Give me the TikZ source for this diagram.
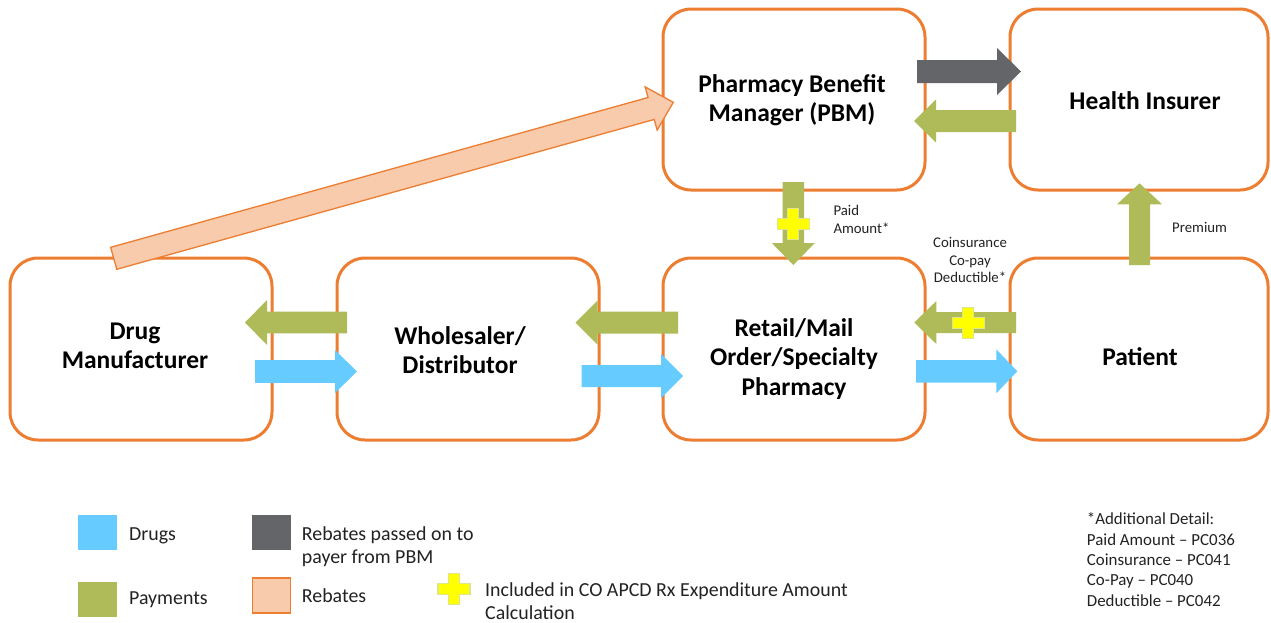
\documentclass[tikz,border=0pt]{standalone}
\usepackage{fontspec}
\setmainfont{Carlito}
\usetikzlibrary{calc}
\definecolor{boxorange}{HTML}{ED7D31}
\definecolor{drugblue}{HTML}{66CCFF}
\definecolor{paygreen}{HTML}{AEBB58}
\definecolor{rebgray}{HTML}{646569}
\definecolor{rebpeach}{HTML}{F7CBAC}
\definecolor{plusyellow}{HTML}{FFFF00}
\definecolor{plusedge}{HTML}{DDE68A}
\definecolor{txtgray}{HTML}{222222}
\newcommand\blockarrow[6]{%
  \coordinate (bahb) at ($(#3)!#6!(#2)$);
  \path[#1] ($(#2)!#4!90:(#3)$) -- ($(bahb)!#4!90:(#3)$) -- ($(bahb)!#5!90:(#3)$)
    -- (#3) -- ($(bahb)!#5!-90:(#3)$) -- ($(bahb)!#4!-90:(#3)$) -- ($(#2)!#4!-90:(#3)$) -- cycle;
}
\newcommand\plussign[1]{%
  \begin{scope}[shift={(#1)}]
    \filldraw[plusst] (-5.5,-15.5) -- (5.5,-15.5) -- (5.5,-5.5) -- (16,-5.5) -- (16,5.5) -- (5.5,5.5)
      -- (5.5,15.5) -- (-5.5,15.5) -- (-5.5,5.5) -- (-16,5.5) -- (-16,-5.5) -- (-5.5,-5.5) -- cycle;
  \end{scope}
}
\tikzset{
  box/.style={draw=boxorange, line width=3pt, rounded corners=28pt, fill=white, inner sep=0pt},
  boxtext/.style={font=\bfseries\fontsize{25.5}{29.5}\selectfont, align=center, inner sep=0pt, text=black},
  smalltext/.style={font=\fontsize{14.8}{17.6}\selectfont, inner sep=0pt, text=txtgray},
  legtext/.style={font=\fontsize{19.9}{23.3}\selectfont, inner sep=0pt, text=txtgray, align=left, anchor=base west},
  notetext/.style={font=\fontsize{16.9}{20.3}\selectfont, inner sep=0pt, text=txtgray, align=left, anchor=base west},
  bluearr/.style={fill=drugblue},
  greenarr/.style={fill=paygreen},
  grayarr/.style={fill=rebgray},
  rebarr/.style={fill=rebpeach, draw=boxorange, line width=1.3pt, line join=miter},
  plusst/.style={fill=plusyellow, draw=plusedge, line width=1.2pt},
  legsq/.style={inner sep=0pt, minimum width=38.5pt, minimum height=35pt},
}
\begin{document}
\begin{tikzpicture}[x=1pt, y=-1pt]
\useasboundingbox (0,0) rectangle (1271,622);

% boxes
\node[box, minimum width=262pt, minimum height=181pt] (pbm) at (794,99.5) {};
\node[box, minimum width=258pt, minimum height=181pt] (ins) at (1139,99.5) {};
\node[box, minimum width=262pt, minimum height=182pt] (drug) at (141,349) {};
\node[box, minimum width=262pt, minimum height=182pt] (whol) at (468,349) {};
\node[box, minimum width=262pt, minimum height=182pt] (ret) at (794,349) {};
\node[box, minimum width=258pt, minimum height=182pt] (pat) at (1139,349) {};

\node[boxtext] (pbmt) at (792,100) {Pharmacy Benefit\\Manager (PBM)};
\node[boxtext] (inst) at (1145,101) {Health Insurer};
\node[boxtext] (drugt) at (135,346) {Drug\\Manufacturer};
\node[boxtext] (wholt) at (460,350) {Wholesaler/\\Distributor};
\node[boxtext] (rett) at (794,359) {Retail/Mail\\Order/Specialty\\Pharmacy};
\node[boxtext] (patt) at (1140,357) {Patient};

% arrow end points
\coordinate (gs) at (917,71.5);   \coordinate (ge) at (1021,71.5);
\coordinate (a2s) at (1016,121);  \coordinate (a2e) at (914,121);
\coordinate (a3s) at (793.3,182); \coordinate (a3e) at (793.3,265);
\coordinate (a4s) at (1139.5,265); \coordinate (a4e) at (1139.5,183.3);
\coordinate (a5s) at (1016,322.5); \coordinate (a5e) at (914.3,322.5);
\coordinate (a6s) at (916,371.3);  \coordinate (a6e) at (1017.3,371.3);
\coordinate (a7s) at (678,322.5);  \coordinate (a7e) at (575.5,322.5);
\coordinate (a8s) at (581.6,376);  \coordinate (a8e) at (683,376);
\coordinate (a9s) at (347,322.5);  \coordinate (a9e) at (245,322.5);
\coordinate (a10s) at (255,371.5); \coordinate (a10e) at (357,371.5);
\coordinate (rs) at (113.7,258.3); \coordinate (re) at (673.3,102.3);

\blockarrow{rebarr}{rs}{re}{11.4pt}{22.4pt}{23pt}
\blockarrow{grayarr}{gs}{ge}{11.5pt}{23.5pt}{24pt}
\blockarrow{greenarr}{a2s}{a2e}{11pt}{21.5pt}{22pt}
\blockarrow{greenarr}{a3s}{a3e}{10.7pt}{21.5pt}{22pt}
\blockarrow{greenarr}{a4s}{a4e}{10.5pt}{22.5pt}{21pt}
\blockarrow{greenarr}{a5s}{a5e}{10.5pt}{21.5pt}{22pt}
\blockarrow{bluearr}{a6s}{a6e}{11.3pt}{22pt}{21pt}
\blockarrow{greenarr}{a7s}{a7e}{11pt}{22pt}{22pt}
\blockarrow{bluearr}{a8s}{a8e}{11pt}{22pt}{22pt}
\blockarrow{greenarr}{a9s}{a9e}{10.8pt}{22.5pt}{22pt}
\blockarrow{bluearr}{a10s}{a10e}{11.3pt}{21.5pt}{22pt}

\coordinate (p1) at (793.3,224.3);
\coordinate (p2) at (968.3,323.3);
\coordinate (p3) at (454,589);
\plussign{p1}
\plussign{p2}
\plussign{p3}

% small labels (base anchor = baseline of last line)
\node[smalltext, align=left, anchor=base west] (paid) at (833.3,233.3) {Paid\\Amount*};
\node[smalltext, align=center, anchor=base] (coins) at (970,282.7) {Coinsurance\\Co-pay\\Deductible*};
\node[smalltext, anchor=base west] (prem) at (1172,232.5) {Premium};

% legend
\node[legsq, fill=drugblue] (lq1) at (97.5,532.5) {};
\node[legsq, fill=paygreen] (lq2) at (97.5,599) {};
\node[legsq, fill=rebgray] (lq3) at (271.5,532.5) {};
\node[legsq, fill=rebpeach, draw=boxorange, line width=1.3pt] (lq4) at (271.5,595.5) {};
\node[legtext] (l1) at (129,540) {Drugs};
\node[legtext] (l2) at (129,604) {Payments};
\node[legtext] (l3) at (301.7,563.3) {Rebates passed on to\\payer from PBM};
\node[legtext] (l4) at (301.7,602) {Rebates};
\node[legtext] (l5) at (485,619.3) {Included in CO APCD Rx Expenditure Amount\\Calculation};

\node[notetext] (note) at (1086.7,606) {*Additional Detail:\\Paid Amount -- PC036\\Coinsurance -- PC041\\Co-Pay -- PC040\\Deductible -- PC042};
\end{tikzpicture}
\end{document}
